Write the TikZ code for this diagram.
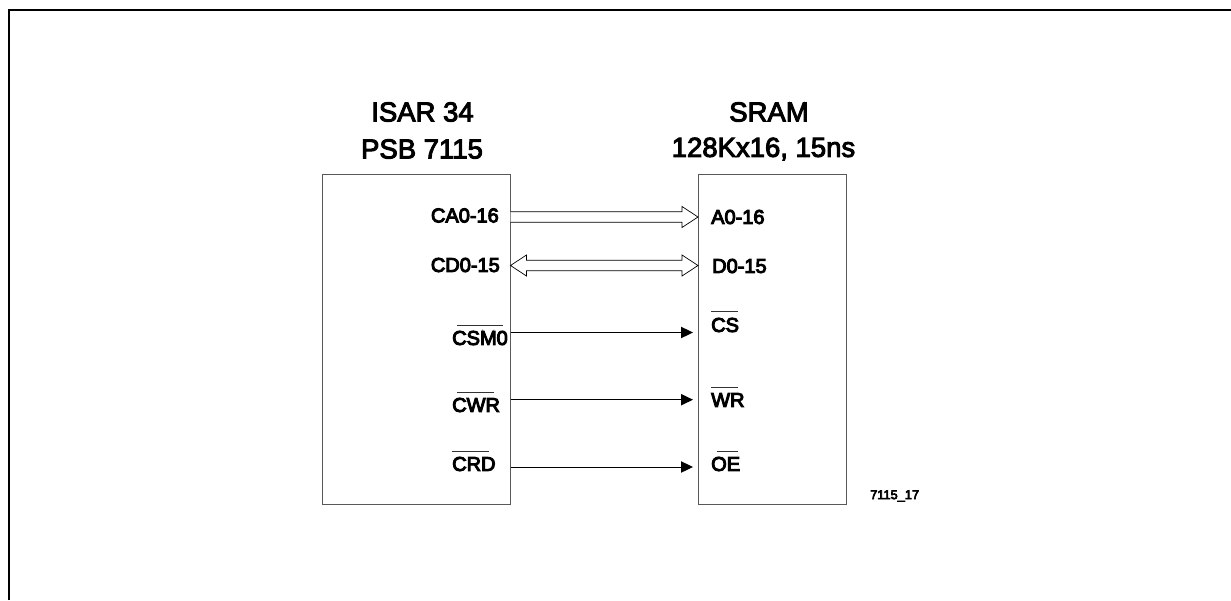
\documentclass[tikz,border=0pt]{standalone}
\usepackage{fontspec}
\setmainfont{Liberation Sans}
\newfontfamily\heavy[FakeBold=5]{Liberation Sans}
\newfontfamily\heavytitle[FakeBold=3.5]{Liberation Sans}
\begin{document}
\begin{tikzpicture}[x=1pt,y=-1pt,
  chip/.style={draw=black!65,line width=1pt,fill=none,anchor=north west},
  frameline/.style={draw=black,line width=2pt},
  title/.style={font=\heavytitle\fontsize{27.5}{30}\selectfont,inner sep=0pt,anchor=center},
  pin/.style={font=\heavy\fontsize{20}{24}\selectfont,inner sep=0pt},
  bar/.style={draw=black!80,line width=0.9pt},
  bus/.style={draw=black,line width=0.7pt,fill=white,line join=miter},
  sig/.style={draw=black,line width=0.9pt},
  tip/.style={fill=black,draw=none},
  tagtext/.style={font=\heavy\fontsize{12.8}{15}\selectfont,inner sep=0pt}]
\useasboundingbox (0,0) rectangle (1231,600);
\draw[frameline] (9,600) -- (9,10) -- (1231,10);
\node[title] (t1) at (422.5,112) {ISAR 34};
\node[title] (t1b) at (422,149) {PSB 7115};
\node[title] (t2) at (769,112) {SRAM};
\node[title] (t2b) at (763.5,149) {128Kx16, 15ns};
\node[chip,minimum width=188pt,minimum height=330pt] (isar) at (322,174) {};
\node[chip,minimum width=148pt,minimum height=330pt] (sram) at (698,174) {};
\coordinate (aL) at (510.5,217);
\coordinate (dL) at (510.5,265.5);
\coordinate (aR) at (698,217);
\coordinate (dR) at (698,265.5);
\draw[bus] (aL) ++(0,-5.2) -- ++(171.5,0) -- ++(0,-5.3) -- (aR) -- ++(-16,10.5) -- ++(0,-5.3) -- ++(-171.5,0);
\draw[bus] (dL) -- ++(16,-10.5) -- ++(0,5.3) -- ++(155.5,0) -- ++(0,-5.3) -- (dR) -- ++(-16,10.5) -- ++(0,-5.3) -- ++(-155.5,0) -- ++(0,5.3) -- cycle;
\node[pin,anchor=east] (ca) at (499,215.5) {CA0-16};
\node[pin,anchor=east] (cd) at (500,265) {CD0-15};
\node[pin,anchor=west] (a) at (711,217) {A0-16};
\node[pin,anchor=west] (d) at (712,266) {D0-15};
\node[pin,anchor=west] (csm) at (452,338) {CSM0};
\node[pin,anchor=west] (cwr) at (452,405) {CWR};
\node[pin,anchor=west] (crd) at (452,464) {CRD};
\node[pin,anchor=west] (cs) at (711,325) {CS};
\node[pin,anchor=west] (wr) at (711,400) {WR};
\node[pin,anchor=west] (oe) at (711,464) {OE};
\draw[bar] (457,325) -- (503,325);
\draw[bar] (457,392) -- (494,392);
\draw[bar] (451.5,451) -- (489,451);
\draw[bar] (711,311) -- (738,311);
\draw[bar] (711,387) -- (738,387);
\draw[bar] (717,451) -- (738,451);
\coordinate (s1L) at (510.5,332.5);
\coordinate (s2L) at (510.5,399.7);
\coordinate (s3L) at (510.5,467);
\coordinate (s1R) at (681,332.5);
\coordinate (s2R) at (681,399.7);
\coordinate (s3R) at (681,467);
\draw[sig] (s1L) -- (s1R);
\draw[sig] (s2L) -- (s2R);
\draw[sig] (s3L) -- (s3R);
\fill[tip] (s1R) ++(12,0) -- ++(-12,-5.8) -- ++(0,11.6) -- cycle;
\fill[tip] (s2R) ++(12,0) -- ++(-12,-5.8) -- ++(0,11.6) -- cycle;
\fill[tip] (s3R) ++(12,0) -- ++(-12,-5.8) -- ++(0,11.6) -- cycle;
\node[tagtext,anchor=west] (tag) at (870,496) {7115\_17};
\end{tikzpicture}
\end{document}
